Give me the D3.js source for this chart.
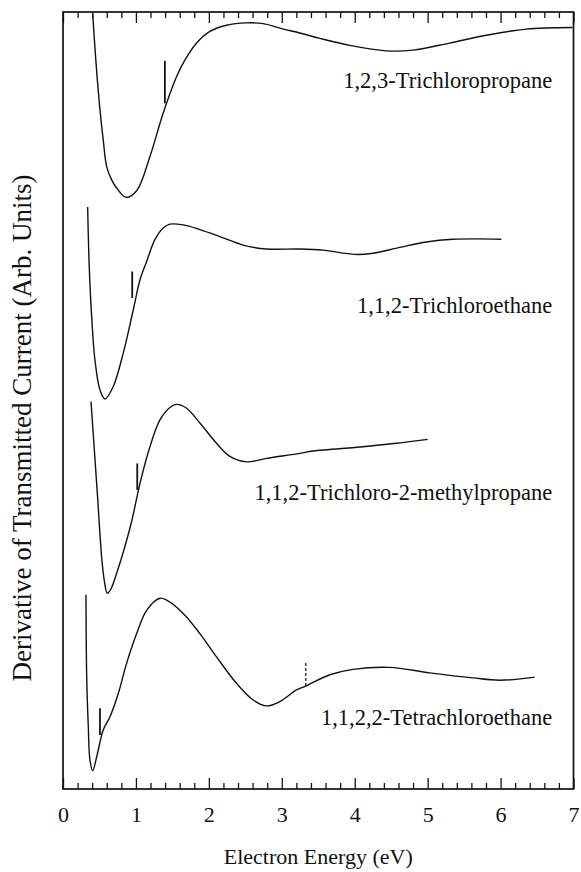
<!DOCTYPE html>
<html>
<head>
<meta charset="utf-8">
<script src="https://cdn.jsdelivr.net/npm/d3@7"></script>
<style>
  body { margin: 0; background: #fff; }
  svg { display: block; }
  text { font-family: "Liberation Serif", "Times New Roman", Times, serif; fill: #111; }
</style>
</head>
<body>
<svg id="chart" width="581" height="872"></svg>
<script>
// Electron transmission derivative spectra, offset vertically (arbitrary units)
const names = [
  "1,2,3-Trichloropropane",
  "1,1,2-Trichloroethane",
  "1,1,2-Trichloro-2-methylpropane",
  "1,1,2,2-Tetrachloroethane"
];

const energyTCP = [0.407, 0.45, 0.507, 0.552, 0.599, 0.667, 0.736, 0.863, 1.010, 1.192, 1.374, 1.558, 1.671, 1.832, 2.014, 2.242, 2.516, 2.744, 3.018, 3.247, 3.521, 3.932, 4.434, 4.799, 5.301, 5.804, 6.352, 6.986];
const signalTCP = [99.8, 93.8, 87.4, 83.5, 80.1, 78.4, 77.35, 76.15, 77.0, 81.4, 87.0, 91.7, 93.8, 96.0, 97.5, 98.3, 98.6, 98.5, 97.8, 97.3, 96.6, 95.7, 95.0, 95.1, 96.0, 97.0, 97.8, 98.0];

const energyTCE = [0.338, 0.360, 0.393, 0.438, 0.507, 0.575, 0.689, 0.826, 0.963, 1.055, 1.147, 1.260, 1.374, 1.466, 1.648, 1.877, 2.151, 2.470, 2.790, 3.247, 3.566, 4.000, 4.251, 4.616, 4.982, 5.347, 5.667, 6.010];
const signalTCE = [74.9, 67.2, 60.8, 55.2, 51.35, 50.2, 51.8, 56.1, 61.65, 65.5, 67.9, 70.7, 72.2, 72.7, 72.6, 72.0, 71.1, 70.0, 69.5, 69.5, 69.35, 68.8, 68.95, 69.7, 70.4, 70.75, 70.8, 70.75];

const energyTCMP = [0.384, 0.474, 0.533, 0.570, 0.607, 0.660, 0.740, 0.830, 0.940, 1.060, 1.192, 1.329, 1.466, 1.558, 1.695, 1.877, 2.105, 2.288, 2.516, 2.790, 3.247, 3.429, 4.114, 4.571, 5.0];
const signalTCMP = [49.85, 37.6, 29.5, 26.6, 25.2, 25.8, 27.9, 30.6, 34.4, 39.5, 44.05, 47.5, 49.1, 49.5, 49.0, 47.1, 44.5, 42.8, 42.1, 42.55, 43.2, 43.5, 44.05, 44.5, 45.0];

const energyTeCE = [0.315, 0.325, 0.347, 0.370, 0.407, 0.462, 0.552, 0.644, 0.758, 0.873, 1.010, 1.147, 1.329, 1.421, 1.648, 1.877, 2.105, 2.379, 2.607, 2.790, 2.973, 3.201, 3.329, 3.658, 3.977, 4.479, 5.027, 5.621, 5.986, 6.466];
const signalTeCE = [25.0, 14.45, 8.0, 3.7, 2.35, 4.15, 7.6, 9.3, 12.3, 16.2, 20.0, 23.0, 24.55, 24.3, 22.6, 20.0, 17.0, 13.6, 11.45, 10.7, 11.25, 12.75, 13.25, 14.7, 15.4, 15.65, 14.95, 14.3, 14.0, 14.4];

// Solid markers: energy, lower and upper signal
const markerEnergy = [1.397, 0.949, 1.018, 0.507];
const markerLow = [88.25, 63.2, 38.5, 6.95];
const markerHigh = [93.7, 66.6, 41.9, 10.4];

// Dashed marker on the tetrachloroethane trace
const dashedEnergy = [3.329];
const dashedLow = [13.25];
const dashedHigh = [16.4];

// Label anchors (right end of text, baseline) in data units
const labelEnergy = [6.71, 6.71, 6.71, 6.71];
const labelSignal = [90.2, 61.3, 37.2, 8.2];

const xTicks = [0, 1, 2, 3, 4, 5, 6, 7];
const xMinorTicks = d3.range(0, 7.001, 0.2).filter(v => Math.abs(v - Math.round(v)) > 1e-6);

const seriesEnergy = [energyTCP, energyTCE, energyTCMP, energyTeCE];
const seriesSignal = [signalTCP, signalTCE, signalTCMP, signalTeCE];

const svg = d3.select("#chart");
const W = 581, H = 872;
const m = { left: 63, right: 7.5, top: 12, bottom: 83 };

svg.append("rect").attr("width", W).attr("height", H).attr("fill", "#fff");

const x = d3.scaleLinear().domain([0, 7]).range([m.left, W - m.right]);
const y = d3.scaleLinear().domain([0, 100]).range([H - m.bottom, m.top]);

const ink = "#111";

// Ticks (inward) on bottom and top
function styleAxis(g) {
  g.select(".domain").remove();
  g.selectAll(".tick line").attr("stroke", ink).attr("stroke-width", 1.3);
}
svg.append("g").attr("transform", `translate(0,${y(0)})`)
  .call(d3.axisBottom(x).tickValues(xMinorTicks).tickSize(-6).tickFormat(""))
  .call(styleAxis);
svg.append("g").attr("transform", `translate(0,${y(0)})`)
  .call(d3.axisBottom(x).tickValues(xTicks).tickSize(-11).tickPadding(17).tickFormat(d3.format("d")))
  .call(styleAxis)
  .call(g => g.selectAll(".tick text").attr("font-size", 22).attr("fill", ink)
    .attr("font-family", '"Liberation Serif", "Times New Roman", serif'));
svg.append("g").attr("transform", `translate(0,${y(100)})`)
  .call(d3.axisTop(x).tickValues(xMinorTicks).tickSize(-6).tickFormat(""))
  .call(styleAxis);
svg.append("g").attr("transform", `translate(0,${y(100)})`)
  .call(d3.axisTop(x).tickValues(xTicks).tickSize(-11).tickFormat(""))
  .call(styleAxis);

// Frame
svg.append("rect")
  .attr("x", x(0)).attr("y", y(100))
  .attr("width", x(7) - x(0)).attr("height", y(0) - y(100))
  .attr("fill", "none").attr("stroke", ink).attr("stroke-width", 1.7);

// Spectra
const line = d3.line()
  .x(d => x(d[0])).y(d => y(d[1]))
  .curve(d3.curveCatmullRom.alpha(0.5));

seriesEnergy.forEach((en, i) => {
  const pts = en.map((e, k) => [e, seriesSignal[i][k]]);
  svg.append("path").datum(pts)
    .attr("d", line)
    .attr("fill", "none").attr("stroke", ink).attr("stroke-width", 1.4)
    .attr("stroke-linejoin", "round");
});

// Vertical markers
markerEnergy.forEach((e, i) => {
  svg.append("line")
    .attr("x1", x(e)).attr("x2", x(e))
    .attr("y1", y(markerLow[i])).attr("y2", y(markerHigh[i]))
    .attr("stroke", ink).attr("stroke-width", 1.8);
});
dashedEnergy.forEach((e, i) => {
  svg.append("line")
    .attr("x1", x(e)).attr("x2", x(e))
    .attr("y1", y(dashedLow[i])).attr("y2", y(dashedHigh[i]))
    .attr("stroke", ink).attr("stroke-width", 1.2)
    .attr("stroke-dasharray", "3,2");
});

// Compound labels
names.forEach((n, i) => {
  svg.append("text")
    .attr("x", x(labelEnergy[i])).attr("y", y(labelSignal[i]))
    .attr("text-anchor", "end").attr("font-size", 22.5)
    .text(n);
});

// Axis titles
svg.append("text")
  .attr("x", (x(0) + x(7)) / 2).attr("y", 864)
  .attr("text-anchor", "middle").attr("font-size", 22)
  .text("Electron Energy (eV)");
svg.append("text")
  .attr("transform", "translate(31,428) rotate(-90)")
  .attr("text-anchor", "middle").attr("font-size", 27)
  .text("Derivative of Transmitted Current (Arb. Units)");
</script>
</body>
</html>
